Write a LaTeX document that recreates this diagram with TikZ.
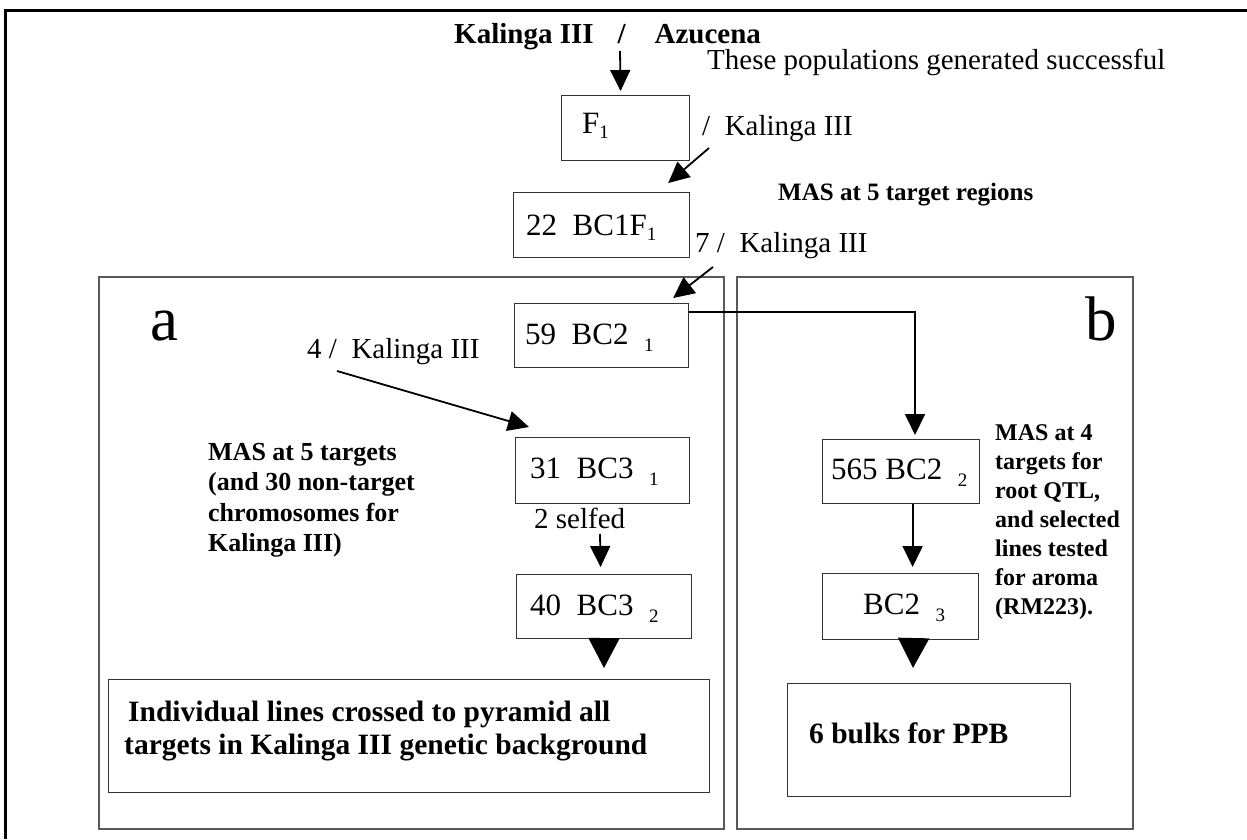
\documentclass[tikz,border=0pt]{standalone}
\usepackage{fontspec}
\setmainfont{Liberation Serif}
\usetikzlibrary{arrows.meta,calc}
\newcommand{\sbx}[2][7]{\raisebox{-#1pt}{\fontsize{19}{19}\selectfont #2}}
\begin{document}
\begin{tikzpicture}[x=1pt,y=-1pt,
 box/.style={draw=black!80,line width=1.2pt,inner sep=0pt,anchor=north west},
 panel/.style={draw=black!65,line width=1.5pt,inner sep=0pt,anchor=north west},
 lab/.style={inner sep=0pt,anchor=base west,font=\fontsize{29}{33}\selectfont},
 boxlab/.style={inner sep=0pt,anchor=base west,font=\fontsize{31}{35}\selectfont},
 titlelab/.style={inner sep=0pt,anchor=base west,font=\fontsize{29}{33}\selectfont\bfseries},
 blab/.style={inner sep=0pt,anchor=north west,align=left},
 letterlab/.style={inner sep=0pt,anchor=base west,font=\fontsize{63}{70}\selectfont},
 arr/.style={line width=1.8pt,-{Triangle[length=21pt,width=20pt]}},
 bigarr/.style={line width=1.8pt,-{Triangle[length=30pt,width=31pt]}},
]
\useasboundingbox (0,0) rectangle (1247,839);
\draw[line width=3pt] (5,839) -- (5,10) -- (1247,10);

% panels
\node[panel,minimum width=625pt,minimum height=552pt] (pa) at (98,276) {};
\node[panel,minimum width=396pt,minimum height=552pt] (pb) at (736,276) {};
\node[letterlab] (la) at (150,340) {a};
\node[letterlab] (lb) at (1085,340) {b};

% top
\node[titlelab] (title) at (454,43) {Kalinga III\hspace{24pt}/\hspace{29pt}Azucena};
\node[lab] (pop) at (707,69) {These populations generated successful};
\node[box,minimum width=128pt,minimum height=65pt] (f1) at (561,95) {};
\node[boxlab] (f1t) at (582,133) {F\sbx[5]{1}};
\coordinate (t0) at (620,51);
\draw[arr] (t0) -- ($(f1.north)+(-5,-4)$);

\node[lab] (k1) at (702,135) {/\ \ Kalinga III};
\node[box,minimum width=176pt,minimum height=65pt] (bc1f1) at (513,192) {};
\node[boxlab] (bc1f1t) at (526,235) {22\ \ BC1F\sbx[5]{1}};
\coordinate (d1s) at (709,148);
\draw[arr] (d1s) -- ($(bc1f1.north east)+(-22,-9)$);

\node[inner sep=0pt,anchor=base west,font=\fontsize{25}{29}\selectfont\bfseries] (mas5r) at (778,200) {MAS at 5 target regions};
\node[lab] (k2) at (695,252) {7 /\ \ Kalinga III};

\node[box,minimum width=174pt,minimum height=64pt] (bc21) at (514,303) {};
\node[boxlab] (bc21t) at (525,344) {59\ \ BC2\ \ \sbx{1}};
\coordinate (d2s) at (713,267);
\draw[arr] (d2s) -- ($(bc21.north east)+(-16,-5)$);

% panel a
\node[lab] (k3) at (307,358) {4 /\ \ Kalinga III};
\node[box,minimum width=174pt,minimum height=66pt] (bc31) at (515,437) {};
\node[boxlab] (bc31t) at (530,478) {31\ \ BC3\ \ \sbx{1}};
\coordinate (d3s) at (337,371);
\draw[arr] (d3s) -- ($(bc31.north west)+(14,-10)$);

\node[blab,font=\fontsize{26}{30.5}\selectfont\bfseries] (mas5) at (208,443) {MAS at 5 targets\\(and 30 non-target\\chromosomes for\\Kalinga III)};

\node[lab] (selfed) at (534,528) {2 selfed};
\node[box,minimum width=175pt,minimum height=64pt] (bc32) at (516,574) {};
\node[boxlab] (bc32t) at (530,615) {40\ \ BC3\ \ \sbx{2}};
\coordinate (s0) at (600,534);
\draw[arr] (s0) -- ($(bc32.north)+(-3.5,-7)$);

\node[box,minimum width=601pt,minimum height=113pt] (ind) at (108,679) {};
\node[blab,font=\fontsize{29.5}{33}\selectfont\bfseries] (indt) at (124,701) {\hspace{4pt}Individual lines crossed to pyramid all\\targets in Kalinga III genetic background};
\coordinate (a0) at (604,668);
\draw[bigarr] (bc32.south) -- (a0);

% panel b
\node[box,minimum width=157pt,minimum height=64pt] (bc22) at (822,439) {};
\node[boxlab] (bc22t) at (831,479) {565 BC2\ \ \sbx{2}};
\draw[arr] ($(bc21.north east)+(0,9)$) -| ($(bc22.north west)+(93,-4)$);

\node[blab,font=\fontsize{24}{29}\selectfont\bfseries] (mas4) at (995,424) {MAS at 4\\targets for\\root QTL,\\and selected\\lines tested\\for aroma\\(RM223).};

\node[box,minimum width=156pt,minimum height=66pt] (bc23) at (822,573) {};
\node[boxlab] (bc23t) at (863,614) {BC2\ \ \sbx{3}};
\draw[arr] ($(bc22.south)+(11.5,0)$) -- ($(bc23.north)+(12,-6)$);

\node[box,minimum width=283pt,minimum height=113pt] (bulk) at (787,683) {};
\node[inner sep=0pt,anchor=base west,font=\fontsize{29.5}{33}\selectfont\bfseries] (bulkt) at (809,743) {6 bulks for PPB};
\coordinate (b0) at (913,668);
\draw[bigarr] ($(bc23.south)+(13,0)$) -- (b0);
\end{tikzpicture}
\end{document}
